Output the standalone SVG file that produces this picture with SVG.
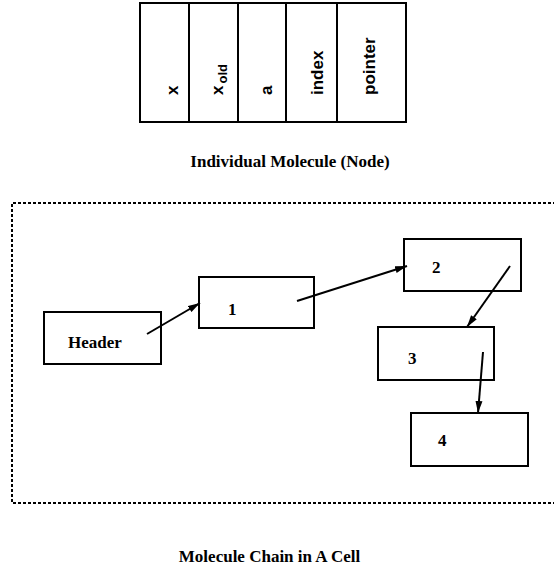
<svg xmlns="http://www.w3.org/2000/svg" width="554" height="569" viewBox="0 0 554 569">
<style>
.box{fill:#fff;stroke:#000;stroke-width:2}
.fld{font-family:"Liberation Sans",Arial,sans-serif;font-weight:bold;font-size:17px;fill:#000}
.lbl{font-family:"Liberation Serif","Times New Roman",serif;font-weight:bold;font-size:17px;fill:#000}
.con{stroke:#000;stroke-width:2;fill:none;marker-end:url(#ah)}
</style>
<defs>
<marker id="ah" markerUnits="userSpaceOnUse" markerWidth="14" markerHeight="8" refX="12" refY="4" orient="auto">
<path d="M0,0.5 L12,4 L0,7.5 z" fill="#000"/>
</marker>
</defs>
<rect width="554" height="569" fill="#fff"/>
<g id="molecule-record">
<rect class="box" x="140" y="3" width="266" height="119"/>
<line x1="189" y1="3" x2="189" y2="122" stroke="#000" stroke-width="2"/>
<line x1="238" y1="3" x2="238" y2="122" stroke="#000" stroke-width="2"/>
<line x1="286" y1="3" x2="286" y2="122" stroke="#000" stroke-width="2"/>
<line x1="337" y1="3" x2="337" y2="122" stroke="#000" stroke-width="2"/>
<text class="fld" transform="translate(178,95) rotate(-90)">x</text>
<text class="fld" transform="translate(223,95) rotate(-90)">x<tspan font-size="13" dx="2" dy="4">old</tspan></text>
<text class="fld" transform="translate(272,95) rotate(-90)">a</text>
<text class="fld" transform="translate(323,95) rotate(-90)">index</text>
<text class="fld" transform="translate(375,95) rotate(-90)">pointer</text>
</g>
<text class="lbl" x="290" y="167" text-anchor="middle">Individual Molecule (Node)</text>
<path d="M556,203 H12 V503 H556" fill="none" stroke="#000" stroke-width="2" stroke-dasharray="3 2"/>
<g id="header">
<rect class="box" x="44" y="312" width="117" height="52"/>
<text class="lbl" x="68" y="348">Header</text>
</g>
<g id="node1">
<rect class="box" x="199" y="277" width="115" height="51"/>
<text class="lbl" x="228" y="315">1</text>
</g>
<g id="node2">
<rect class="box" x="404" y="239" width="117" height="52"/>
<text class="lbl" x="432" y="273">2</text>
</g>
<g id="node3">
<rect class="box" x="378" y="327" width="116" height="53"/>
<text class="lbl" x="408" y="364">3</text>
</g>
<g id="node4">
<rect class="box" x="411" y="413" width="117" height="53"/>
<text class="lbl" x="438" y="446">4</text>
</g>
<g id="connectors">
<line class="con" x1="147" y1="334" x2="200" y2="303"/>
<line class="con" x1="297" y1="301" x2="407" y2="266"/>
<line class="con" x1="510" y1="266" x2="467" y2="327"/>
<line class="con" x1="483" y1="352" x2="478" y2="413"/>
</g>
<text class="lbl" x="269.5" y="562" text-anchor="middle">Molecule Chain in A Cell</text>
</svg>
